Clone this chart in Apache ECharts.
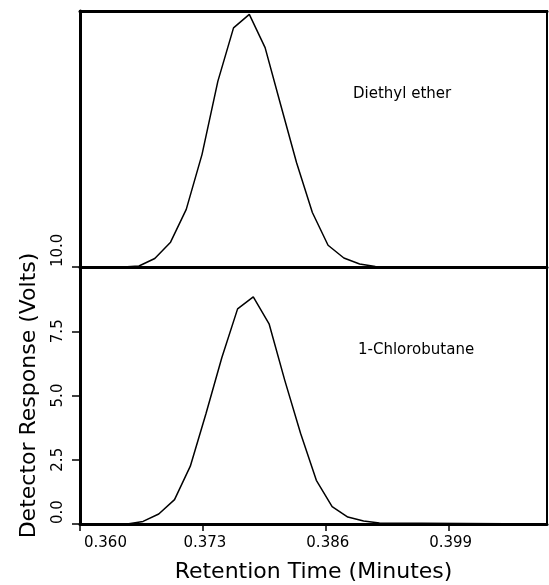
<!DOCTYPE html>
<html>
<head>
<meta charset="utf-8">
<script src="https://cdn.jsdelivr.net/npm/echarts@6/dist/echarts.min.js"></script>
<style>
  html, body { margin: 0; padding: 0; background: #fff; }
  #chart { width: 549px; height: 585px; }
</style>
</head>
<body>
<div id="chart"></div>
<script>
// Retention time axis (minutes) and detector response axis (volts)
const retentionTicks = [0.360, 0.373, 0.386, 0.399];
const responseTicks = [0.0, 2.5, 5.0, 7.5, 10.0];
const timeRange = [0.360, 0.4094];

// Diethyl ether peak (upper trace)
const etherTime = [0.36000, 0.36457, 0.36624, 0.36791, 0.36958, 0.37124, 0.37291, 0.37458,
                   0.37624, 0.37791, 0.37958, 0.38124, 0.38291, 0.38458, 0.38624, 0.38791,
                   0.38958, 0.39124, 0.40940];
const etherSignal = [0.00, 0.00, 0.04, 0.33, 0.97, 2.25, 4.40, 7.25,
                     9.34, 9.87, 8.57, 6.32, 4.07, 2.13, 0.85, 0.35,
                     0.12, 0.02, 0.00];

// 1-Chlorobutane peak (lower trace)
const chloroTime = [0.36000, 0.36500, 0.36667, 0.36833, 0.37000, 0.37167, 0.37333, 0.37500,
                    0.37667, 0.37833, 0.38000, 0.38167, 0.38333, 0.38500, 0.38667, 0.38833,
                    0.39000, 0.39167, 0.40940];
const chloroSignal = [0.00, 0.00, 0.10, 0.39, 0.95, 2.25, 4.30, 6.47,
                      8.37, 8.84, 7.79, 5.58, 3.53, 1.70, 0.68, 0.27,
                      0.12, 0.04, 0.00];

const FONT = 'DejaVu Sans';
const zip = (xs, ys) => xs.map((x, i) => [x, ys[i]]);

const chart = echarts.init(document.getElementById('chart'), null, { renderer: 'canvas' });

const bareValueAxis = (extra) => Object.assign({
  type: 'value',
  axisLine: { show: true, lineStyle: { color: '#000', width: 3 } },
  axisTick: { show: false },
  axisLabel: { show: false },
  splitLine: { show: false }
}, extra);

const noteStyle = { fontFamily: FONT, fontSize: 15, fontWeight: 'normal', color: '#000' };

chart.setOption({
  animation: false,
  backgroundColor: '#fff',
  textStyle: { fontFamily: FONT, color: '#000' },
  title: [
    { text: 'Diethyl ether', left: 348, top: 82, textStyle: noteStyle },
    { text: '1-Chlorobutane', left: 353, top: 338, textStyle: noteStyle }
  ],
  grid: [
    { left: 80, right: 2, top: 11, height: 256, show: true, borderColor: '#000', borderWidth: 2 },
    { left: 80, right: 2, top: 267, height: 257, show: true, borderColor: '#000', borderWidth: 2 }
  ],
  xAxis: [
    bareValueAxis({ gridIndex: 0, min: timeRange[0], max: timeRange[1] }),
    bareValueAxis({ gridIndex: 0, min: timeRange[0], max: timeRange[1], position: 'top' }),
    bareValueAxis({
      gridIndex: 1, min: timeRange[0], max: timeRange[1],
      axisTick: { show: true, customValues: retentionTicks, length: 7, lineStyle: { color: '#000', width: 1.5 } },
      axisLabel: {
        show: true, customValues: retentionTicks, margin: 12,
        fontFamily: FONT, fontSize: 15, color: '#000',
        padding: [0, 0, 0, 4],
        alignMinLabel: 'left',
        formatter: (v) => v.toFixed(3)
      },
      name: 'Retention Time (Minutes)', nameLocation: 'middle', nameGap: 37,
      nameTextStyle: { fontFamily: FONT, fontSize: 22, color: '#000' }
    })
  ],
  yAxis: [
    bareValueAxis({ gridIndex: 0, min: 0, max: 10 }),
    bareValueAxis({
      gridIndex: 1, min: 0, max: 10,
      axisTick: { show: true, customValues: responseTicks, length: 8, lineStyle: { color: '#000', width: 1.5 } },
      axisLabel: {
        show: true, customValues: responseTicks, rotate: 90, margin: 14,
        fontFamily: FONT, fontSize: 15, color: '#000',
        alignMinLabel: 'left', alignMaxLabel: 'left',
        formatter: (v) => v.toFixed(1)
      },
      name: 'Detector Response (Volts)', nameLocation: 'middle', nameGap: 40,
      nameTextStyle: { fontFamily: FONT, fontSize: 22, color: '#000' }
    })
  ],
  series: [
    {
      name: 'Diethyl ether', type: 'line', xAxisIndex: 0, yAxisIndex: 0,
      data: zip(etherTime, etherSignal), symbol: 'none', smooth: false,
      lineStyle: { color: '#000', width: 1.5 }, z: 1
    },
    {
      name: '1-Chlorobutane', type: 'line', xAxisIndex: 2, yAxisIndex: 1,
      data: zip(chloroTime, chloroSignal), symbol: 'none', smooth: false,
      lineStyle: { color: '#000', width: 1.5 }, z: 1
    }
  ]
});
</script>
</body>
</html>
